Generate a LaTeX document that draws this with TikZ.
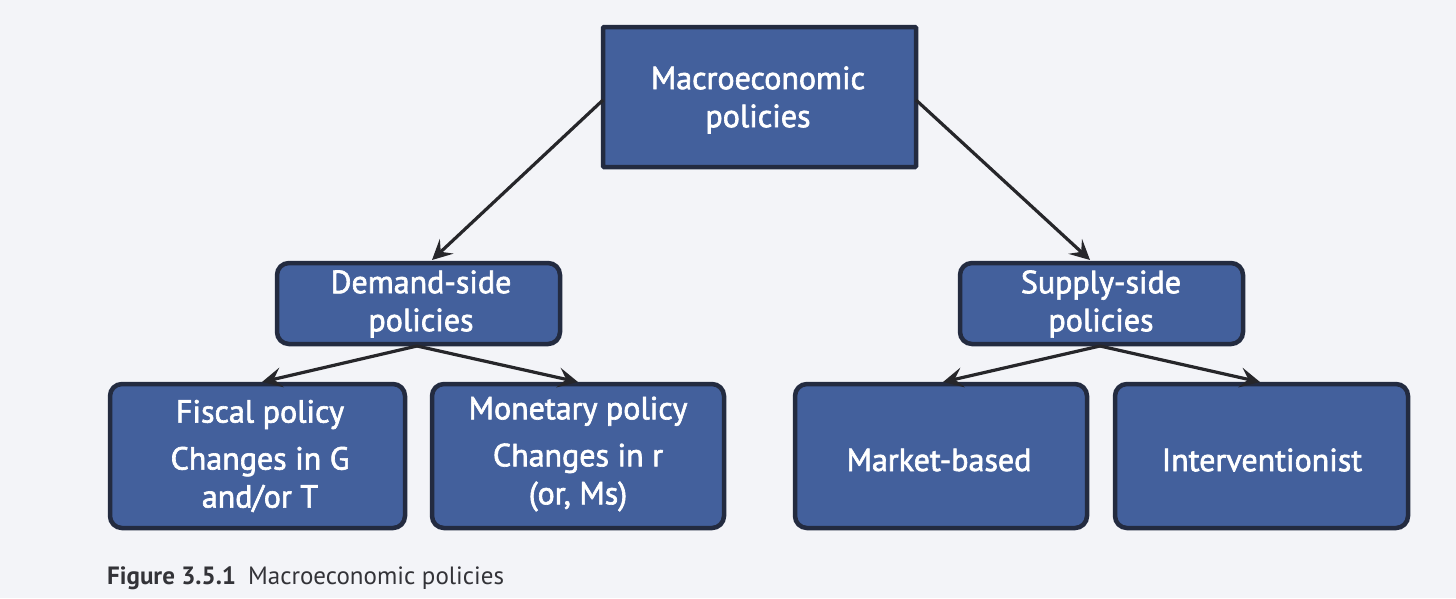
\documentclass[tikz,border=0pt]{standalone}
\usepackage{fontspec}
\setmainfont{PT Sans}
\newfontfamily\boxfont[FakeBold=2]{PT Sans}
\usetikzlibrary{arrows.meta}
\definecolor{bg}{HTML}{F3F4F8}
\definecolor{boxfill}{HTML}{43609C}
\definecolor{boxline}{HTML}{232B40}
\definecolor{arrowc}{HTML}{26262A}
\definecolor{captc}{HTML}{333338}
\begin{document}
\begin{tikzpicture}[x=1pt,y=-1pt,
  pbox/.style={draw=boxline,line width=4.5pt,fill=boxfill,rounded corners=12pt},
  ptext/.style={text=white,font=\boxfont\fontsize{32}{38}\selectfont,align=center,anchor=center},
  conn/.style={draw=arrowc,line width=3.2pt,-{Stealth[length=20pt,width=20pt,inset=8pt]}}]
\useasboundingbox (0,0) rectangle (1456,598);
\fill[bg] (0,0) rectangle (1456,598);
% boxes
\draw[pbox,rounded corners=1pt] (603,27) rectangle (916,167);
\draw[pbox] (277,263) rectangle (560,344);
\draw[pbox] (960,263) rectangle (1243,344);
\draw[pbox] (110,384) rectangle (405,528);
\draw[pbox] (432,384) rectangle (724,528);
\draw[pbox] (795,384) rectangle (1087,528);
\draw[pbox] (1115,384) rectangle (1408,528);
% texts
\node[ptext] (macro) at (758,100) {Macroeconomic\\policies};
\node[ptext] (demand) at (421,304) {Demand-side\\policies};
\node[ptext] (supply) at (1101,304) {Supply-side\\policies};
\node[ptext] (fiscal) at (260,456) {Fiscal policy\\[9pt]Changes in G\\and/or T};
\node[ptext] (monetary) at (578,454) {Monetary policy\\[9pt]Changes in r\\(or, Ms)};
\node[ptext] (market) at (939,460) {Market-based};
\node[ptext] (interv) at (1262,460) {Interventionist};
% anchor coordinates
\coordinate (mL) at (603,100);
\coordinate (mR) at (916,100);
\coordinate (dT) at (432,260);
\coordinate (sT) at (1090,260);
\coordinate (dB) at (417,346);
\coordinate (sB) at (1100,346);
\coordinate (fT) at (262,382);
\coordinate (moT) at (578,382);
\coordinate (maT) at (943,382);
\coordinate (iT) at (1260,382);
\draw[conn] (mL) -- (dT);
\draw[conn] (mR) -- (sT);
\draw[conn] (dB) -- (fT);
\draw[conn] (dB) -- (moT);
\draw[conn] (sB) -- (maT);
\draw[conn] (sB) -- (iT);
% caption
\node[anchor=base west,text=captc,font=\fontsize{25}{28}\selectfont,inner sep=0pt] (cap) at (107,584) {\textbf{Figure 3.5.1}\hspace{12pt}Macroeconomic policies};
\end{tikzpicture}
\end{document}
